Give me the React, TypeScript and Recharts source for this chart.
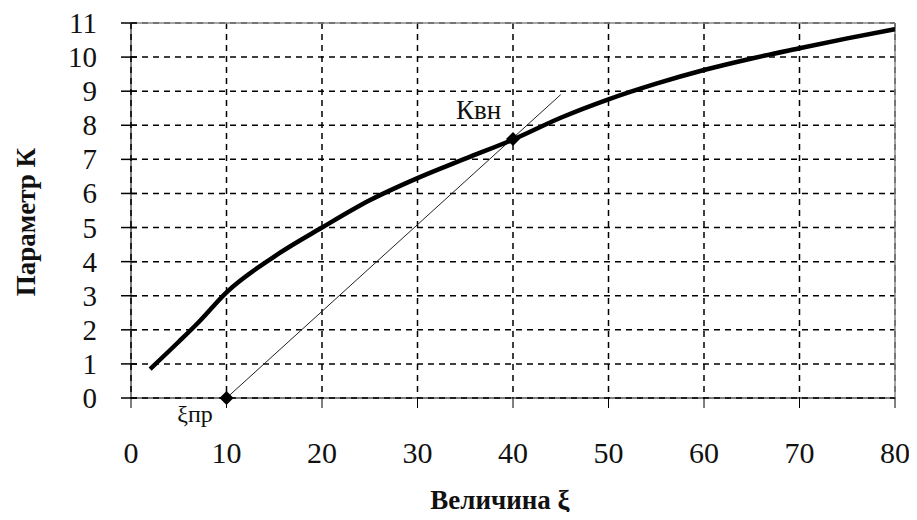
import { ComposedChart, Line, Scatter, XAxis, YAxis, CartesianGrid, ReferenceLine, LabelList } from "recharts"

const curveX = [2, 5, 7, 10, 15, 20, 25, 30, 35, 40, 45, 50, 55, 60, 65, 70, 75, 80]
const curveK = [0.85, 1.65, 2.2, 3.1, 4.15, 5.0, 5.8, 6.45, 7.02, 7.58, 8.22, 8.76, 9.22, 9.62, 9.96, 10.26, 10.55, 10.82]

const tangentX = [10, 45]
const tangentK = [0, 8.9]

const pointX = [10, 40]
const pointK = [0, 7.6]
const pointLabels = ["ξпр", "Квн"]

const xTicks = [0, 10, 20, 30, 40, 50, 60, 70, 80]
const yTicks = [0, 1, 2, 3, 4, 5, 6, 7, 8, 9, 10, 11]

const curve = curveX.map((x, i) => ({ x, y: curveK[i] }))
const tangent = tangentX.map((x, i) => ({ x, y: tangentK[i] }))
const points = pointX.map((x, i) => ({ x, y: pointK[i], label: pointLabels[i] }))

const css = `#root, #root * { font-family: "Liberation Serif", "Times New Roman", serif !important; }`

function YTick(props: any) {
  const { x, y, payload } = props
  return (
    <g>
      <line x1={x + 24} x2={x + 40} y1={y} y2={y} stroke="#000" strokeWidth={1.5} />
      <text x={x} y={y} dy={10} textAnchor="end" fontSize={29} fill="#111">
        {payload.value}
      </text>
    </g>
  )
}

function XTick(props: any) {
  const { x, y, payload } = props
  return (
    <text x={x} y={y} dy={41} textAnchor="middle" fontSize={30} fill="#111">
      {payload.value}
    </text>
  )
}

function Diamond(props: any) {
  const { cx, cy } = props
  const r = 7
  return <polygon points={`${cx},${cy - r} ${cx + r},${cy} ${cx},${cy + r} ${cx - r},${cy}`} fill="#000" />
}

function PointLabel(props: any) {
  const { x, y, value } = props
  if (value === "Квн") {
    return (
      <text x={x - 30} y={y - 15} textAnchor="middle" fontSize={27} fill="#111">
        {value}
      </text>
    )
  }
  return (
    <text x={x - 27} y={y + 29} textAnchor="middle" fontSize={24} fill="#111">
      {value}
    </text>
  )
}

export default function App() {
  return (
    <div style={{ margin: -8, width: 917, height: 520, position: "relative" }}>
      <style>{css}</style>
      <ComposedChart width={917} height={520} margin={{ top: 23, right: 22, bottom: 62, left: 60 }}>
        <CartesianGrid stroke="#000" strokeWidth={1.5} strokeDasharray="6 5" />
        <XAxis
          dataKey="x"
          type="number"
          domain={[0, 80]}
          ticks={xTicks}
          height={60}
          tickSize={10}
          tickMargin={14}
          stroke="#000"
          tick={<XTick />}
          allowDuplicatedCategory={false}
        />
        <YAxis
          dataKey="y"
          type="number"
          domain={[0, 11]}
          ticks={yTicks}
          width={71}
          tickSize={10}
          tickMargin={24}
          tickLine={false}
          stroke="#000"
          tick={<YTick />}
        />
        <ReferenceLine y={11} stroke="#888" strokeWidth={1.5} />
        <ReferenceLine x={80} stroke="#888" strokeWidth={1.5} />
        <Line data={tangent} dataKey="y" stroke="#222" strokeWidth={1} dot={false} isAnimationActive={false} />
        <Line data={curve} dataKey="y" type="monotone" stroke="#000" strokeWidth={4.5} dot={false} isAnimationActive={false} />
        <Scatter data={points} dataKey="y" fill="#000" shape={<Diamond />} isAnimationActive={false}>
          <LabelList dataKey="label" content={<PointLabel />} />
        </Scatter>
      </ComposedChart>
      <div
        style={{
          position: "absolute",
          left: 26,
          top: 222,
          transform: "translate(-50%, -50%) rotate(-90deg)",
          fontSize: 27,
          fontWeight: "bold",
          whiteSpace: "nowrap",
          color: "#111",
        }}
      >
        Параметр К
      </div>
      <div
        style={{
          position: "absolute",
          left: 500,
          top: 500,
          transform: "translate(-50%, -50%)",
          fontSize: 27,
          fontWeight: "bold",
          whiteSpace: "nowrap",
          color: "#111",
        }}
      >
        Величина ξ
      </div>
    </div>
  )
}
